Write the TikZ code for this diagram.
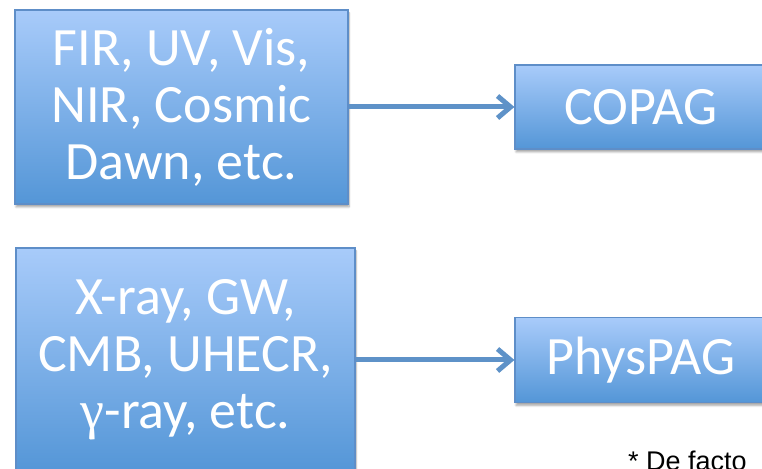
\documentclass[tikz,border=0pt]{standalone}
\usepackage{fontspec}
\setmainfont{Carlito}
\newfontfamily\arialf{Liberation Sans}
\newfontfamily\symf{Liberation Serif}
\usetikzlibrary{arrows.meta,shadows.blur}
\definecolor{boxtop}{RGB}{168,203,250}
\definecolor{boxbot}{RGB}{84,150,215}
\definecolor{boxedge}{RGB}{94,142,200}
\definecolor{arrowc}{RGB}{94,146,200}
\begin{document}
\begin{tikzpicture}[x=1pt,y=1pt,
  pagbox/.style={draw=boxedge, line width=1.2pt, top color=boxtop, bottom color=boxbot,
    text=white, font=\fontsize{54}{57}\selectfont, align=center, inner sep=0pt,
    blur shadow={shadow xshift=1pt,shadow yshift=-3pt,shadow blur steps=6,shadow opacity=35}},
  link/.style={draw=arrowc, line width=5pt,
    -{Straight Barb[length=13pt,width=22pt,line width=5pt]}}]
\useasboundingbox (0,0) rectangle (762,468);
\clip (0,0) rectangle (762,468);
\node[pagbox, minimum width=333pt, minimum height=194pt] (src1) at (181.5,361)
  {FIR, UV, Vis,\\NIR, Cosmic\\Dawn, etc.};
\node[pagbox, minimum width=252pt, minimum height=84pt] (copag) at (641,361) {COPAG};
\node[pagbox, minimum width=339pt, minimum height=224pt] (src2) at (185.5,108)
  {X-ray, GW,\\CMB, UHECR,\\{\symf γ}-ray, etc.};
\node[pagbox, minimum width=252pt, minimum height=85pt] (physpag) at (641,108) {PhysPAG};
\draw[link] (src1.east) -- (copag.west);
\draw[link] (src2.east) -- (physpag.west);
\node[anchor=base west, inner sep=0pt, font=\arialf\fontsize{27}{30}\selectfont] (note) at (628,-2) {* De facto};
\end{tikzpicture}
\end{document}
